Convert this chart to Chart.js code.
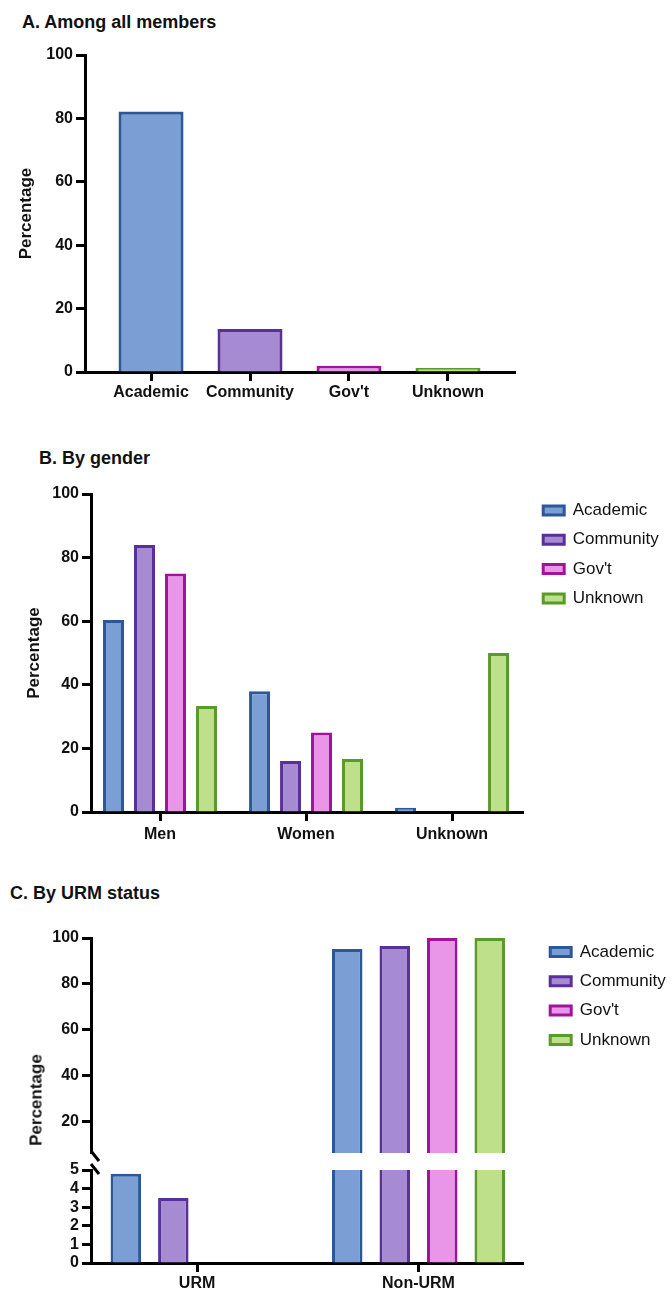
<!DOCTYPE html>
<html>
<head>
<meta charset="utf-8">
<script src="https://cdn.jsdelivr.net/npm/chart.js@4.4.1/dist/chart.umd.min.js"></script>
<style>
  body { margin: 0; background: #fff; }
  #page { position: relative; width: 672px; height: 1291px; overflow: hidden; font-family: "Liberation Sans", Arial, sans-serif; color: #111; }
  canvas { position: absolute; left: 0; }
  .title { position: absolute; font-weight: bold; font-size: 18px; line-height: 18px; white-space: nowrap; }
  .ytitle { position: absolute; font-weight: bold; font-size: 17px; line-height: 17px; white-space: nowrap;
            transform: translate(-50%, -50%) rotate(-90deg); }
</style>
</head>
<body>
<div id="page">
  <div class="title" style="left:22px; top:13px">A. Among all members</div>
  <div class="title" style="left:39px; top:449px">B. By gender</div>
  <div class="title" style="left:10px; top:884px">C. By URM status</div>
  <canvas id="chartA" width="672" height="420" style="top:0px"></canvas>
  <canvas id="chartB" width="672" height="450" style="top:420px"></canvas>
  <canvas id="chartC1" width="672" height="300" style="top:870px"></canvas>
  <canvas id="chartC2" width="672" height="141" style="top:1150px"></canvas>
  <div class="ytitle" style="left:35.5px; top:1100px">Percentage</div>
</div>
<script>
// data
const orgTypes = ['Academic', 'Community', "Gov't", 'Unknown'];
const allMembers = [82.2, 13.6, 2.0, 1.3];

const genders = ['Men', 'Women', 'Unknown'];
const genderAcademic = [60.4, 38.0, 1.3];
const genderCommunity = [84.0, 16.0, 0];
const genderGovt = [75.0, 25.0, 0];
const genderUnknown = [33.3, 16.7, 50.0];

const urmGroups = ['URM', 'Non-URM'];
const urmAcademic = [4.8, 95.2];
const urmCommunity = [3.5, 96.5];
const urmGovt = [0, 100];
const urmUnknown = [0, 100];

const yTicksMain = [0, 20, 40, 60, 80, 100];
const yTicksUpper = [20, 40, 60, 80, 100];
const yTicksLower = [0, 1, 2, 3, 4, 5];

const fills = ['#7b9fd4', '#a68bd3', '#ea96e8', '#bfe08a'];
const borders = ['#2c5799', '#59309a', '#a0149c', '#5a9a2a'];

const FONT = '"Liberation Sans", Arial, sans-serif';
Chart.defaults.font.family = FONT;
Chart.defaults.color = '#111';

const pts = (arr) => arr.map((v, i) => ({ x: i, y: v }));

// legend geometry
const LEG_FONT = 17, LEG_BOX = 21, LEG_PAD = 12.3;
const mctx = document.createElement('canvas').getContext('2d');
mctx.font = LEG_FONT + 'px ' + FONT;
const legTextW = Math.max(...orgTypes.map(t => mctx.measureText(t).width));
const legWidth = LEG_PAD + LEG_BOX + LEG_FONT / 2 + legTextW + 10;
const plotRight = 523;

// shifts the legend box after layout
const legendNudge = {
  id: 'legendNudge',
  afterLayout(chart, args, opts) {
    const lg = chart.legend;
    if (!lg || !opts) return;
    lg.left += opts.dx || 0; lg.right += opts.dx || 0;
    lg.top += opts.dy || 0; lg.bottom += opts.dy || 0;
  }
};

// the two slashes of the broken axis
const axisBreak = {
  id: 'axisBreak',
  afterDraw(chart) {
    const { ctx, chartArea } = chart;
    const cx = chartArea.left + 4;
    ctx.save();
    ctx.strokeStyle = '#000';
    ctx.lineWidth = 3;
    [chartArea.top - 14, chartArea.top - 1].forEach(cy => {
      ctx.beginPath();
      ctx.moveTo(cx - 4, cy - 5);
      ctx.lineTo(cx + 4, cy + 5);
      ctx.stroke();
    });
    ctx.restore();
  }
};

const borderOpts = { color: '#000', width: 3 };
const gridOpts = () => ({ offset: false, drawOnChartArea: false, drawTicks: true, tickLength: 9, tickWidth: 3, color: '#000' });

function catAxis(labels, min, max, pad, height, show) {
  return {
    type: 'linear', min: min, max: max, display: show, offset: false,
    afterBuildTicks: (ax) => { ax.ticks = labels.map((l, i) => ({ value: i })); },
    afterFit: (ax) => { ax.height = height; },
    ticks: { autoSkip: false, maxRotation: 0, padding: pad, color: '#111',
             font: { size: 16, weight: 'bold' }, callback: (v) => labels[v] },
    grid: gridOpts(),
    border: borderOpts
  };
}

function valAxis(min, max, tickVals, width, titleText, titlePad) {
  return {
    type: 'linear', min: min, max: max,
    afterBuildTicks: (ax) => { ax.ticks = tickVals.map(v => ({ value: v })); },
    afterFit: (ax) => { ax.width = width; },
    ticks: { autoSkip: false, padding: 3, color: '#111', font: { size: 16, weight: 'bold' } },
    grid: gridOpts(),
    border: borderOpts,
    title: { display: !!titleText, text: titleText || '', color: '#111',
             font: { size: 17, weight: 'bold' }, padding: { top: titlePad || 0, bottom: 0 } }
  };
}

function legendOpts() {
  return {
    display: true, position: 'right', align: 'start',
    labels: { boxWidth: LEG_BOX, boxHeight: 9, padding: LEG_PAD, color: '#111', font: { size: LEG_FONT } }
  };
}

function groupSets(series, catPct, barPct, clip) {
  return series.map((s, k) => ({
    label: orgTypes[k], data: pts(s),
    backgroundColor: fills[k], borderColor: borders[k], borderWidth: 3,
    borderSkipped: 'start', categoryPercentage: catPct, barPercentage: barPct, clip: clip
  }));
}

// A. Among all members
new Chart(document.getElementById('chartA'), {
  type: 'bar',
  data: {
    datasets: [{
      label: 'All members', data: pts(allMembers),
      backgroundColor: fills, borderColor: borders, borderWidth: 3.2, borderSkipped: 'start',
      categoryPercentage: 1, barPercentage: 0.657
    }]
  },
  options: {
    responsive: false, animation: false,
    layout: { padding: { left: 0, top: 55, right: 157, bottom: 0 } },
    plugins: { legend: { display: false }, tooltip: { enabled: false } },
    scales: {
      x: catAxis(orgTypes, -0.667, 3.677, 2.4, 48, true),
      y: valAxis(0, 100, yTicksMain, 85, 'Percentage', 16.6)
    }
  }
});

// B. By gender
new Chart(document.getElementById('chartB'), {
  type: 'bar',
  data: { datasets: groupSets([genderAcademic, genderCommunity, genderGovt, genderUnknown], 0.849, 0.677) },
  options: {
    responsive: false, animation: false,
    layout: { padding: { left: 0, top: 74, right: 672 - plotRight - legWidth, bottom: 0 } },
    plugins: { legend: legendOpts(), legendNudge: { dx: 7.9, dy: -4.3 }, tooltip: { enabled: false } },
    scales: {
      x: catAxis(genders, -0.4726, 2.486, 3.5, 58, true),
      y: valAxis(0, 100, yTicksMain, 91, 'Percentage', 24.3)
    }
  },
  plugins: [legendNudge]
});

// C. By URM status, upper part of the broken axis
const urmSeries = [urmAcademic, urmCommunity, urmGovt, urmUnknown];
new Chart(document.getElementById('chartC1'), {
  type: 'bar',
  data: { datasets: groupSets(urmSeries, 0.858, 0.642, 0) },
  options: {
    responsive: false, animation: false,
    layout: { padding: { left: 0, top: 68, right: 672 - plotRight - legWidth, bottom: 17 } },
    plugins: { legend: legendOpts(), legendNudge: { dx: 14.9, dy: -6.8 }, tooltip: { enabled: false } },
    scales: {
      x: catAxis(urmGroups, -0.479, 1.472, 2, 0, false),
      y: valAxis(6.5, 100, yTicksUpper, 91)
    }
  },
  plugins: [legendNudge]
});

// C. lower part of the broken axis
new Chart(document.getElementById('chartC2'), {
  type: 'bar',
  data: { datasets: groupSets(urmSeries, 0.858, 0.642, 0) },
  options: {
    responsive: false, animation: false,
    layout: { padding: { left: 0, top: 20, right: 672 - plotRight, bottom: 0 } },
    plugins: { legend: { display: false }, tooltip: { enabled: false } },
    scales: {
      x: catAxis(urmGroups, -0.479, 1.472, 2.2, 28, true),
      y: valAxis(0, 5, yTicksLower, 91)
    }
  },
  plugins: [axisBreak]
});
</script>
</body>
</html>
